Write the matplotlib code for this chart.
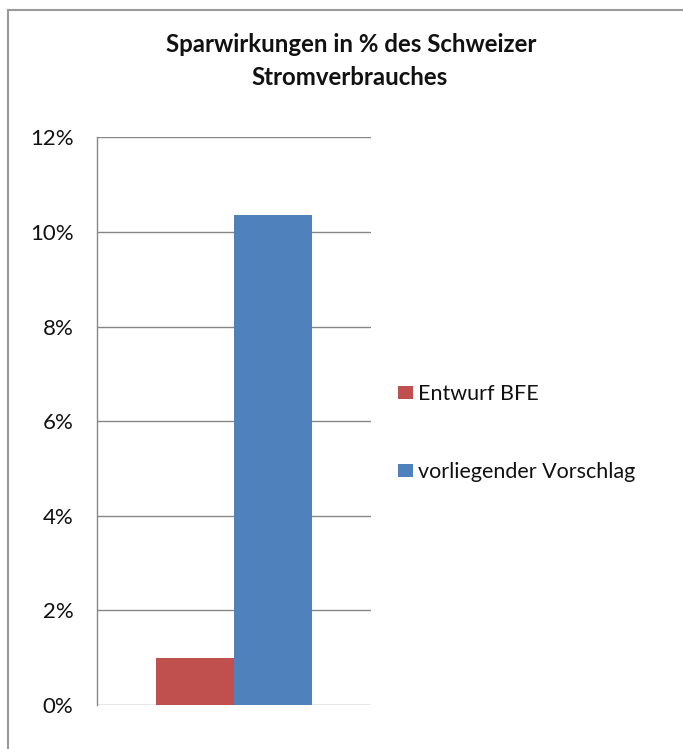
import matplotlib
matplotlib.use("Agg")
import matplotlib.pyplot as plt
from matplotlib.lines import Line2D
from matplotlib.patches import Patch
from matplotlib.ticker import FuncFormatter

# ---- data ----
title_lines = ["Sparwirkungen in % des Schweizer", "Stromverbrauches"]
series_names = ["Entwurf BFE", "vorliegender Vorschlag"]
series_values = [1.0, 10.35]          # percent of Swiss electricity consumption
series_colors = ["#C0504D", "#4F81BD"]
y_ticks = [0, 2, 4, 6, 8, 10, 12]

plt.rcParams['font.family'] = ['Lato', 'DejaVu Sans']

W, H = 683, 749
fig = plt.figure(figsize=(W / 100, H / 100), dpi=100)
fig.patch.set_facecolor("white")

# chart border (top and left visible)
bc = "#9A9A9A"
fig.add_artist(Line2D([8 / W, 1.0], [1 - 10 / H, 1 - 10 / H], color=bc, lw=1.5,
                      transform=fig.transFigure))
fig.add_artist(Line2D([8 / W, 8 / W], [0, 1 - 10 / H], color=bc, lw=1.5,
                      transform=fig.transFigure))

ax = fig.add_axes([97 / W, 44 / H, 274 / W, (705 - 137.3) / H])
bw = 0.285
n = len(series_values)
for i, (name, val, col) in enumerate(zip(series_names, series_values, series_colors)):
    xpos = (i - (n - 1) / 2) * bw
    ax.bar(xpos, val, width=bw, color=col, label=name, zorder=3, linewidth=0)

ax.set_xlim(-0.5, 0.5)
ax.set_ylim(0, 12)
ax.set_yticks(y_ticks)
ax.yaxis.set_major_formatter(FuncFormatter(lambda v, p: f"{v:.0f}%"))
ax.set_xticks([])
gc = "#878787"
ax.grid(axis="y", color=gc, linewidth=1, zorder=0)
for s in ["top", "right", "bottom"]:
    ax.spines[s].set_visible(False)
ax.spines["left"].set_color(gc)
ax.spines["left"].set_linewidth(1)
ax.tick_params(axis="y", length=0, pad=17, labelsize=16, labelcolor="#111111")

fig.text(351 / W, 1 - 52 / H, title_lines[0], ha="center", va="baseline",
         fontsize=17.3, fontweight="bold", color="#111111")
fig.text(350 / W, 1 - 85 / H, title_lines[1], ha="center", va="baseline",
         fontsize=17.3, fontweight="bold", color="#111111")

handles = [Patch(facecolor=c, edgecolor="none") for c in series_colors]
fig.legend(handles, series_names, loc="center left",
           bbox_to_anchor=(398 / W, 1 - 433 / H), frameon=False,
           fontsize=15.5, borderpad=0, borderaxespad=0,
           handlelength=0.7, handleheight=0.6, handletextpad=0.25,
           labelspacing=2.7, labelcolor="#111111")

fig.savefig("out.png", dpi=100, facecolor="white")
